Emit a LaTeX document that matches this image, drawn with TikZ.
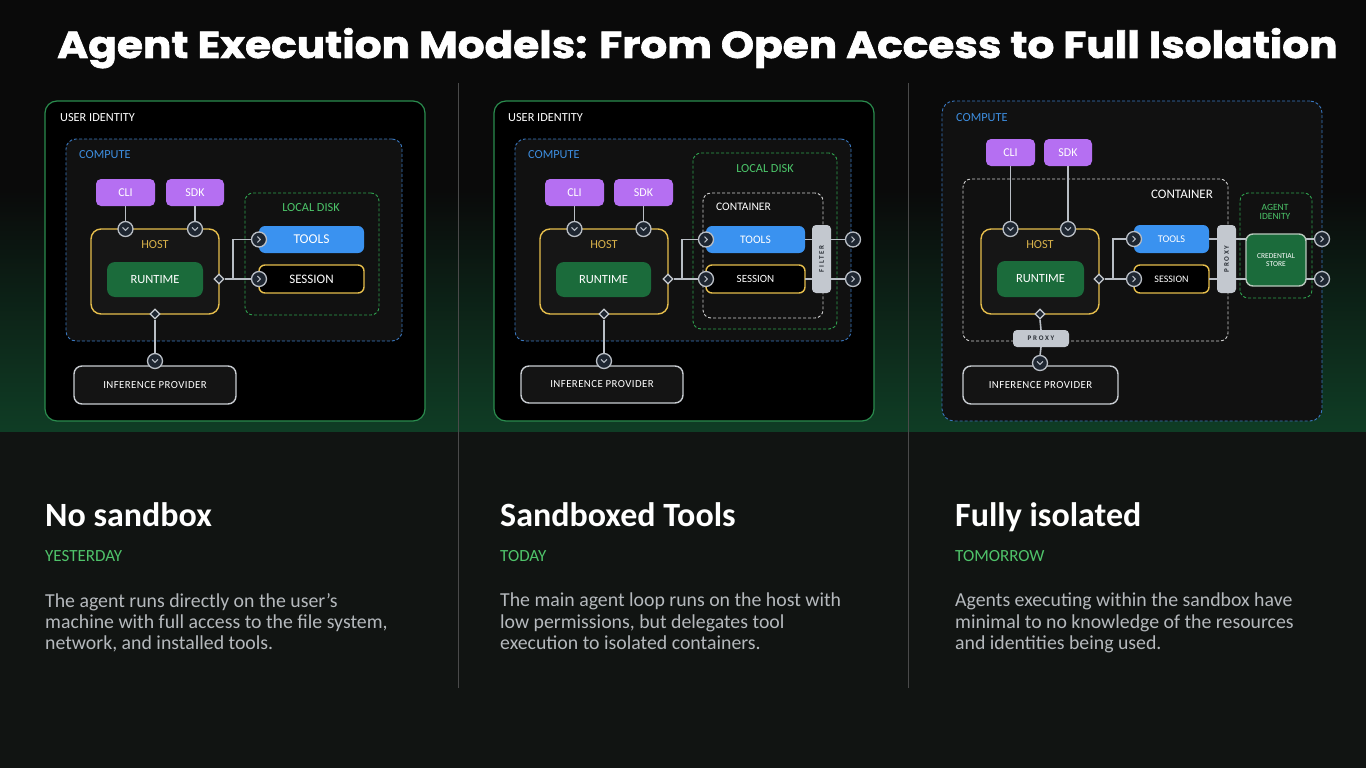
\documentclass[tikz,border=0pt]{standalone}
\usepackage{graphicx}
\usepackage{fontspec}
\setmainfont{Carlito}
\newfontfamily\titlefont{Poppins}[BoldFeatures={FakeBold=1.6}]
\newfontfamily\spacedfont{Carlito}[LetterSpace=25]
\newfontfamily\widefont{Carlito}[LetterSpace=4]
\usetikzlibrary{shapes.geometric,calc}
\definecolor{bgtop}{HTML}{0A0A0A}
\definecolor{bggreen}{HTML}{0F3D25}
\definecolor{bgbot}{HTML}{111412}
\definecolor{uidgreen}{HTML}{2A8C4E}
\definecolor{cmpblue}{HTML}{3A78C0}
\definecolor{cmplbl}{HTML}{3D8EE0}
\definecolor{cmpfill}{HTML}{111111}
\definecolor{purp}{HTML}{B56FF2}
\definecolor{hosty}{HTML}{E6BE4C}
\definecolor{hostlbl}{HTML}{D9B24A}
\definecolor{hostfill}{HTML}{161616}
\definecolor{rtgreen}{HTML}{1B6B3B}
\definecolor{diskg}{HTML}{2FA24F}
\definecolor{disklbl}{HTML}{4CC66A}
\definecolor{toolblue}{HTML}{3A92F0}
\definecolor{infgray}{HTML}{C9CDD2}
\definecolor{inffill}{HTML}{141414}
\definecolor{ctwhite}{HTML}{D0D0D0}
\definecolor{barg}{HTML}{C3C8CF}
\definecolor{bartext}{HTML}{2A2F36}
\definecolor{linegray}{HTML}{B9BEC5}
\definecolor{cfill}{HTML}{1E2631}
\definecolor{credborder}{HTML}{B9C9BD}
\definecolor{sepgray}{HTML}{4A4A4A}
\definecolor{bodytext}{HTML}{B5B9BD}
\definecolor{subgreen}{HTML}{4FC36A}
\newcommand\fsz[1]{\fontsize{#1}{#1}\selectfont}
\newcommand\bx[7]{\node[#1, inner sep=0pt, outer sep=0pt, minimum width={#5-#3}, minimum height={#6-#4}] (#2) at ({(#3+#5)/2},{(#4+#6)/2}) {#7};}
\newcommand\cdown[3]{\node[cnode] (#1) at (#2,#3) {};
  \draw[chev] ($(#1.center)+(-2.8,-1.4)$) -- ++(2.8,2.8) -- ++(2.8,-2.8);}
\newcommand\cright[3]{\node[cnode] (#1) at (#2,#3) {};
  \draw[chev] ($(#1.center)+(-1.4,-2.8)$) -- ++(2.8,2.8) -- ++(-2.8,2.8);}
\begin{document}
\begin{tikzpicture}[x=1pt,y=-1pt,
  uid/.style={draw=uidgreen, line width=1.2pt, rounded corners=12pt, fill=black},
  cmpbox/.style={draw=cmpblue, dash pattern=on 3pt off 2pt, line width=0.9pt, rounded corners=10pt, fill=cmpfill},
  pill/.style={fill=purp, rounded corners=5pt, text=white, font=\fsz{12}},
  hostbox/.style={draw=hosty, line width=1.4pt, rounded corners=10pt, fill=hostfill},
  rtbox/.style={fill=rtgreen, rounded corners=8pt, text=white, font=\fsz{12.5}},
  diskbox/.style={draw=diskg, dash pattern=on 3pt off 2pt, line width=0.9pt, rounded corners=8pt},
  ctbox/.style={draw=ctwhite, dash pattern=on 3pt off 2pt, line width=0.9pt, rounded corners=8pt},
  tlbox/.style={fill=toolblue, rounded corners=6pt, text=white},
  ssbox/.style={fill=black, draw=hosty, line width=1.4pt, rounded corners=6pt, text=white},
  infbox/.style={draw=infgray, line width=1.4pt, rounded corners=8pt, fill=inffill, text=white, font=\widefont\fsz{10.8}},
  gbar/.style={fill=barg, rounded corners=4pt},
  bartxt/.style={text=bartext, font=\spacedfont\bfseries\fsz{7}, inner sep=0},
  credbox/.style={fill=rtgreen, draw=credborder, line width=1.4pt, rounded corners=7pt, text=white, font=\fsz{7.5}, align=center},
  cnode/.style={circle, draw=linegray, line width=1.3pt, fill=cfill, minimum size=15pt, inner sep=0},
  dnode/.style={diamond, draw=infgray, line width=1.2pt, fill=cfill, minimum size=10pt, inner sep=0},
  conn/.style={draw=linegray, line width=1.6pt},
  chev/.style={draw=linegray, line width=1pt, line cap=round, line join=round},
  lbl/.style={text=white, inner sep=0, font=\fsz{12.3}},
  head/.style={text=white, inner sep=0, anchor=base west, font=\bfseries\fsz{34}},
  sub/.style={text=subgreen, inner sep=0, anchor=base west, font=\fsz{17}},
  body/.style={text=bodytext, inner sep=0, anchor=north west, align=left, font=\fontsize{19.8}{21.3}\selectfont}
]
\useasboundingbox (0,0) rectangle (1366,768);
% background
\fill[bgtop] (0,0) rectangle (1366,432);
\shade[top color=bgtop, bottom color=bggreen] (0,190) rectangle (1366,432);
\fill[bgbot] (0,432) rectangle (1366,768);
% separators
\draw[sepgray, line width=0.8pt] (458,83) -- (458,688);
\draw[sepgray, line width=0.8pt] (908,83) -- (908,688);
% title
\node[anchor=base west, inner sep=0, text=white] (title) at (57,58)
  {\resizebox{1280pt}{30pt}{\titlefont\bfseries Agent Execution Models: From Open Access to Full Isolation}};

% ================= Panel 1 =================
\bx{uid}{uid1}{45}{101}{425}{421}{}
\node[lbl, anchor=west] (uidl1) at (60,118) {USER IDENTITY};
\bx{cmpbox}{cmp1}{66}{139}{402}{341}{}
\node[lbl, anchor=west, text=cmplbl] (cmpl1) at (79,155) {COMPUTE};
\bx{pill}{cli1}{96}{179}{155}{206}{CLI}
\bx{pill}{sdk1}{166}{179}{224}{206}{SDK}
\bx{hostbox}{host1}{91}{229}{219}{314}{}
\node[lbl, text=hostlbl] (hostl1) at (155,245) {HOST};
\bx{rtbox}{rt1}{107}{262}{203}{297}{RUNTIME}
\bx{diskbox}{ld1}{245}{193}{379}{315}{}
\node[lbl, text=disklbl] (ldl1) at (311,208) {LOCAL DISK};
\bx{tlbox, font=\fsz{13.5}}{tl1}{259}{226}{364}{253}{TOOLS}
\bx{ssbox, font=\fsz{13}}{ss1}{259}{265}{364}{293}{SESSION}
\bx{infbox}{inf1}{74}{366}{236}{404}{INFERENCE PROVIDER}
\node[dnode] (dr1) at (219,279) {};
\node[dnode] (db1) at (155,314) {};
\draw[conn] (dr1.east) -- (233,279) coordinate (br1);
\draw[conn] (br1) |- (259,239.5);
\draw[conn] (db1.south) -- (155,359);
\draw[conn] (cli1.south) -- (125.5,229);
\draw[conn] (sdk1.south) -- (195,229);
\cdown{ca1}{125.5}{229}
\cdown{cb1}{195}{229}
\cright{ct1}{259}{239.5}
\cright{cs1}{259}{279}
\cdown{ci1}{155}{361}
\draw[conn] (br1) -- (cs1.west);

% ================= Panel 2 =================
\bx{uid}{uid2}{494}{101}{874}{421}{}
\node[lbl, anchor=west] (uidl2) at (508,118) {USER IDENTITY};
\bx{cmpbox}{cmp2}{515}{139}{851}{341}{}
\node[lbl, anchor=west, text=cmplbl] (cmpl2) at (528,155) {COMPUTE};
\bx{pill}{cli2}{545}{179}{604}{206}{CLI}
\bx{pill}{sdk2}{614}{179}{673}{206}{SDK}
\bx{hostbox}{host2}{540}{229}{668}{314}{}
\node[lbl, text=hostlbl] (hostl2) at (604,245) {HOST};
\bx{rtbox}{rt2}{556}{262}{651}{297}{RUNTIME}
\bx{diskbox}{ld2}{693}{153}{837}{329}{}
\node[lbl, text=disklbl] (ldl2) at (765,169) {LOCAL DISK};
\bx{ctbox}{ct2}{703}{193}{823}{318}{}
\node[lbl, anchor=west, font=\fsz{11.5}] (ctl2) at (716,207) {CONTAINER};
\bx{tlbox, font=\fsz{11.5}}{tl2}{706}{226}{805}{253}{TOOLS}
\bx{ssbox, font=\fsz{11}}{ss2}{706}{265}{805}{293}{SESSION}
\bx{gbar}{flt2}{812}{225}{831}{293}{}
\node[bartxt, rotate=90] (fltl2) at (flt2.center) {FILTER};
\bx{infbox}{inf2}{521}{366}{683}{403}{INFERENCE PROVIDER}
\node[dnode] (dr2) at (668,279) {};
\node[dnode] (db2) at (604,314) {};
\draw[conn] (dr2.east) -- (682,279) coordinate (br2);
\draw[conn] (br2) |- (706,239.5);
\draw[conn] (db2.south) -- (604,359);
\draw[conn] (cli2.south) -- (574.5,229);
\draw[conn] (sdk2.south) -- (643.5,229);
\draw[conn] (tl2.east) -- (tl2.east -| flt2.west);
\draw[conn] (ss2.east) -- (ss2.east -| flt2.west);
\cdown{ca2}{574.5}{229}
\cdown{cb2}{643.5}{229}
\cright{ct2c}{706}{239.5}
\cright{cs2}{706}{279}
\cright{co2a}{853}{239.5}
\cright{co2b}{853}{279}
\cdown{ci2}{604}{361}
\draw[conn] (br2) -- (cs2.west);
\draw[conn] (co2a.west -| flt2.east) -- (co2a.west);
\draw[conn] (co2b.west -| flt2.east) -- (co2b.west);

% ================= Panel 3 =================
\bx{cmpbox, fill=cmpfill, rounded corners=12pt}{cmp3}{942}{101}{1322}{421}{}
\node[lbl, anchor=west, text=cmplbl] (cmpl3) at (956,118) {COMPUTE};
\bx{pill}{cli3}{986}{139}{1035}{166}{CLI}
\bx{pill}{sdk3}{1044}{139}{1092}{166}{SDK}
\bx{ctbox}{ct3}{963}{179}{1228}{341}{}
\node[lbl, font=\fsz{13}] (ctl3) at (1182,194) {CONTAINER};
\bx{hostbox}{host3}{981}{229}{1099}{314}{}
\node[lbl, text=hostlbl] (hostl3) at (1040,245) {HOST};
\bx{rtbox}{rt3}{997}{261}{1084}{297}{RUNTIME}
\bx{tlbox, font=\fsz{10.3}}{tl3}{1134}{225}{1209}{253}{TOOLS}
\bx{ssbox, font=\fsz{10}}{ss3}{1134}{265}{1209}{293}{SESSION}
\bx{gbar}{px3}{1217}{225}{1236}{293}{}
\node[bartxt, rotate=90] (pxl3) at (px3.center) {PROXY};
\bx{diskbox}{ai3}{1240}{193}{1312}{298}{}
\node[lbl, text=disklbl, font=\fsz{9.5}, align=center] (ail3) at (1275,212) {AGENT\\IDENITY};
\bx{credbox}{cr3}{1246}{234}{1306}{286}{CREDENTIAL\\STORE}
\bx{infbox}{inf3}{963}{366}{1118}{404}{INFERENCE PROVIDER}
\node[dnode] (dr3) at (1099,279) {};
\node[dnode] (db3) at (1040,314) {};
\draw[conn] (dr3.east) -- (1113,279) coordinate (br3);
\draw[conn] (br3) |- (1134,239);
\draw[conn] (cli3.south) -- (1010.5,229);
\draw[conn] (sdk3.south) -- (1068,229);
\draw[conn] (tl3.east) -- (tl3.east -| px3.west);
\draw[conn] (ss3.east) -- (ss3.east -| px3.west);
\draw[conn] (px3.east |- tl3.east) -- (cr3.west |- tl3.east);
\draw[conn] (px3.east |- ss3.east) -- (cr3.west |- ss3.east);
\bx{gbar}{pxh3}{1013}{330}{1069}{347}{}
\node[bartxt] (pxhl3) at (pxh3.center) {PROXY};
\draw[conn] (db3.south) -- (pxh3.north);
\draw[conn] (pxh3.south) -- (1040,356);
\cdown{ca3}{1010.5}{229}
\cdown{cb3}{1068}{229}
\cright{ct3c}{1134}{239}
\cright{cs3}{1134}{279}
\cright{co3a}{1322}{239}
\cright{co3b}{1322}{279}
\cdown{ci3}{1040}{363}
\draw[conn] (br3) -- (cs3.west);
\draw[conn] (co3a.west -| cr3.east) -- (co3a.west);
\draw[conn] (co3b.west -| cr3.east) -- (co3b.west);

% ================= Bottom text =================
\node[head] (h1) at (45,526) {No sandbox};
\node[sub] (s1) at (45,561) {YESTERDAY};
\node[body] (b1) at (45,593) {The agent runs directly on the user's\\machine with full access to the file system,\\network, and installed tools.};
\node[head] (h2) at (500,526) {Sandboxed Tools};
\node[sub] (s2) at (500,561) {TODAY};
\node[body] (b2) at (500,593) {The main agent loop runs on the host with\\low permissions, but delegates tool\\execution to isolated containers.};
\node[head] (h3) at (955,526) {Fully isolated};
\node[sub] (s3) at (955,561) {TOMORROW};
\node[body] (b3) at (955,593) {Agents executing within the sandbox have\\minimal to no knowledge of the resources\\and identities being used.};
\end{tikzpicture}
\end{document}
